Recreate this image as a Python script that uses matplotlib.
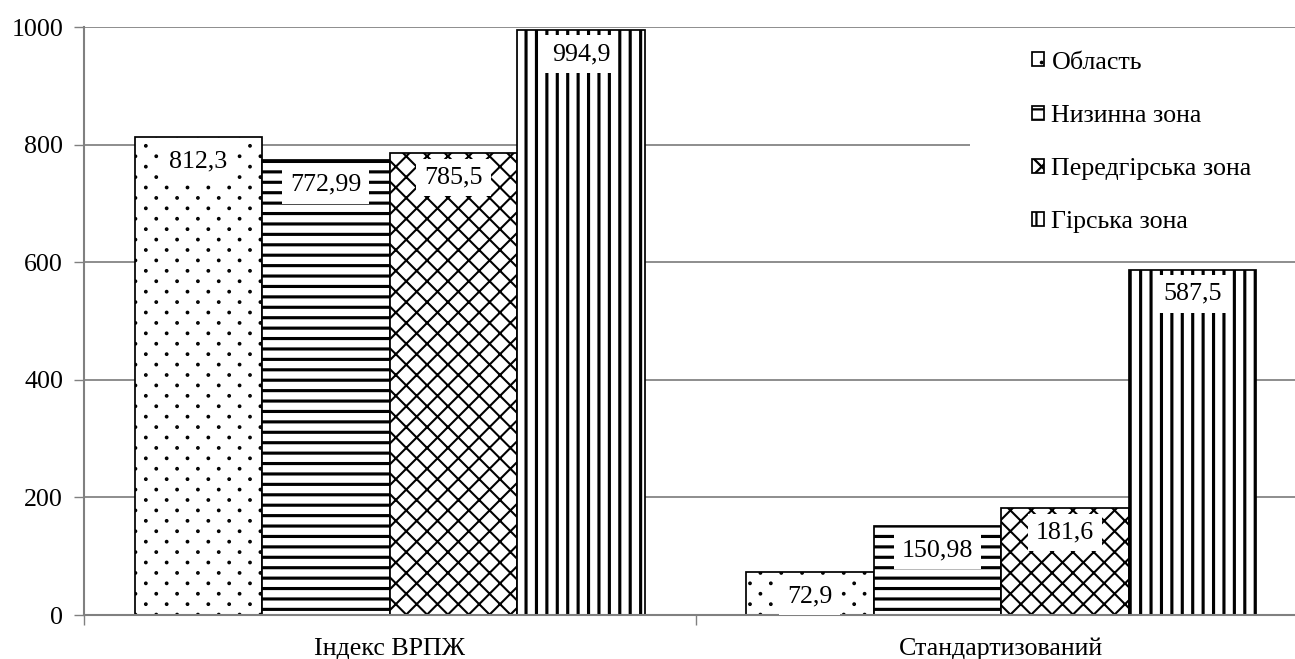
import matplotlib
matplotlib.use("Agg")
import matplotlib.pyplot as plt
import matplotlib.hatch as mhatch
import numpy as np
from matplotlib.patches import Rectangle
from matplotlib.path import Path

plt.rcParams['font.family'] = ['Liberation Serif', 'DejaVu Serif']
plt.rcParams['hatch.linewidth'] = 1.3


# крапки в шаховому порядку, рідші ніж стандартний '.'
class Dots(mhatch.Shapes):
    size = 0.006
    filled = True

    def __init__(self, hatch, density):
        circle = Path.unit_circle()
        self.shape_vertices = circle.vertices
        self.shape_codes = circle.codes
        self.centers = []
        if hatch.count('.'):
            for r in range(13):
                if r % 2 == 0:
                    cols = np.linspace(0, 1, 7)
                else:
                    cols = np.linspace(1 / 12, 11 / 12, 6)
                for c in cols:
                    self.centers.append((c, r / 12))
        self.num_shapes = len(self.centers)
        self.num_vertices = self.num_shapes * len(self.shape_vertices)

    def set_vertices_and_codes(self, vertices, codes):
        sv = self.shape_vertices * self.size
        n = len(sv)
        for i, (cx, cy) in enumerate(self.centers):
            vertices[i * n:(i + 1) * n] = sv + (cx, cy)
            codes[i * n:(i + 1) * n] = self.shape_codes


mhatch._hatch_types = [Dots if t is mhatch.SmallFilledCircles else t
                       for t in mhatch._hatch_types]

# дані
categories = ['Індекс ВРПЖ', 'Стандартизований']
zones = ['Область', 'Низинна зона', 'Передгірська зона', 'Гірська зона']
values = [
    [812.3, 72.9],
    [772.99, 150.98],
    [785.5, 181.6],
    [994.9, 587.5],
]
labels = [
    ['812,3', '72,9'],
    ['772,99', '150,98'],
    ['785,5', '181,6'],
    ['994,9', '587,5'],
]
hatches = ['.', '--', 'xx', '||']
hatch_lw = [1.3, 1.8, 1.2, 1.8]

fig = plt.figure(figsize=(10.36, 5.272), dpi=125)
ax = fig.add_axes([84 / 1295, 1 - 615 / 659, 1223 / 1295, 588 / 659])

x = np.arange(len(categories))
w = 0.2087
fs = 15

for i in range(len(zones)):
    pos = x + (i - 1.5) * w
    with plt.rc_context({'hatch.linewidth': hatch_lw[i]}):
        bars = ax.bar(pos, values[i], w, color='white', edgecolor='black',
                      hatch=hatches[i], linewidth=1.0, label=zones[i], zorder=2)
    for b, txt in zip(bars, labels[i]):
        ax.annotate(txt, (b.get_x() + b.get_width() / 2, b.get_height()),
                    xytext=(0, -14), textcoords='offset points',
                    ha='center', va='center', fontsize=fs, zorder=4,
                    bbox=dict(boxstyle='square,pad=0.3', fc='white', ec='none'))

ax.set_xlim(-0.5, 1.5)
ax.set_ylim(0, 1000)
ax.set_yticks(np.arange(0, 1001, 200))
ax.tick_params(axis='y', labelsize=fs, length=6, color='#808080', pad=6)

ax.set_xticks([-0.5, 0.5, 1.5])
ax.set_xticklabels([])
ax.tick_params(axis='x', which='major', length=6, color='#808080')
ax.set_xticks(x, minor=True)
ax.set_xticklabels(categories, minor=True, fontsize=fs)
ax.tick_params(axis='x', which='minor', length=0, pad=13)

ax.grid(axis='y', color='#808080', linewidth=1.0)
ax.set_axisbelow(True)
for s in ['top', 'right']:
    ax.spines[s].set_visible(False)
for s in ['left', 'bottom']:
    ax.spines[s].set_color('#808080')
    ax.spines[s].set_linewidth(1.2)

# біле поле під легендою
ax.add_patch(Rectangle((0.7245, 0.62), 0.3, 0.372, transform=ax.transAxes,
                       facecolor='white', edgecolor='none', zorder=1))

leg = ax.legend(loc='upper left', bbox_to_anchor=(0.7665, 0.976), frameon=False,
                fontsize=fs, handlelength=0.45, handleheight=0.45,
                handletextpad=0.3, labelspacing=1.2, borderaxespad=0)
leg.set_zorder(5)

fig.savefig('out.png', dpi=125)
